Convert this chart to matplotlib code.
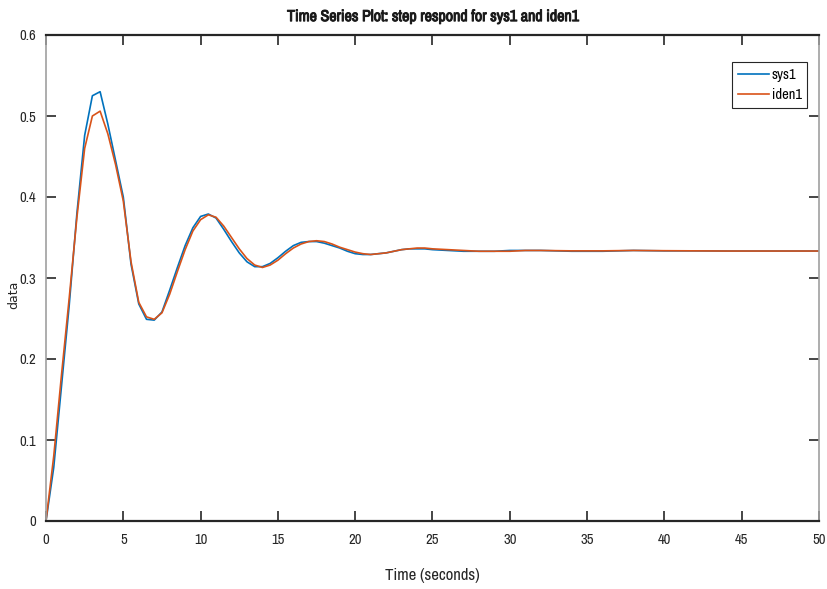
import numpy as np
import matplotlib
matplotlib.use('Agg')
import matplotlib.pyplot as plt
import matplotlib.patheffects as pe
from matplotlib import font_manager

# step response samples
t_fine = [0, 0.5, 1, 1.5, 2, 2.5, 3, 3.5, 4, 4.5, 5, 5.5, 6, 6.5, 7, 7.5, 8, 8.5, 9, 9.5,
          10, 10.5, 11, 11.5, 12, 12.5, 13, 13.5, 14, 14.5, 15, 15.5, 16, 16.5, 17, 17.5,
          18, 18.5, 19, 19.5, 20, 20.5, 21, 21.5, 22, 22.5, 23, 23.5, 24, 24.5, 25,
          26, 27, 28, 29, 30, 31, 32, 34, 36, 38, 40, 42, 44, 46, 48, 50]
sys1 = [0, 0.066, 0.166, 0.266, 0.380, 0.476, 0.525, 0.530, 0.490, 0.445, 0.400, 0.317,
        0.268, 0.249, 0.248, 0.258, 0.285, 0.313, 0.340, 0.362, 0.376, 0.379, 0.374,
        0.360, 0.345, 0.331, 0.320, 0.314, 0.314, 0.318, 0.325, 0.333, 0.340, 0.344,
        0.345, 0.345, 0.343, 0.340, 0.337, 0.333, 0.330, 0.329, 0.329, 0.330, 0.331,
        0.333, 0.335, 0.336, 0.336, 0.336, 0.335, 0.334, 0.333, 0.333, 0.333, 0.334,
        0.334, 0.334, 0.333, 0.333, 0.334, 0.3335, 0.3335, 0.3333, 0.3333, 0.3333, 0.3333]
iden1 = [0, 0.080, 0.180, 0.275, 0.375, 0.460, 0.500, 0.506, 0.478, 0.440, 0.395, 0.320,
         0.270, 0.252, 0.249, 0.257, 0.280, 0.308, 0.335, 0.358, 0.372, 0.378, 0.375,
         0.364, 0.350, 0.336, 0.324, 0.316, 0.313, 0.316, 0.322, 0.330, 0.337, 0.342,
         0.345, 0.346, 0.345, 0.342, 0.338, 0.335, 0.332, 0.330, 0.329, 0.330, 0.331,
         0.333, 0.335, 0.336, 0.337, 0.337, 0.336, 0.335, 0.334, 0.333, 0.333, 0.333,
         0.334, 0.334, 0.3335, 0.3335, 0.334, 0.3337, 0.3335, 0.3333, 0.3333, 0.3333, 0.3333]

# pick a narrow face if one is installed
names = sorted({f.name for f in font_manager.fontManager.ttflist})
narrow = [n for n in names if 'Narrow' in n or 'Condensed' in n]
if 'Liberation Sans Narrow' in narrow:
    fam = 'Liberation Sans Narrow'
else:
    fam = narrow[0] if narrow else 'Liberation Sans'
plt.rcParams['font.family'] = [fam, 'DejaVu Sans']
sz = 10.5 if narrow else 9.5

fig = plt.figure(figsize=(8.28, 5.89), dpi=100)
ax = fig.add_axes([46/828, 68/589, 773/828, 486/589])

ax.plot(t_fine, sys1, color='#0072BD', lw=1.2, label='sys1')
ax.plot(t_fine, iden1, color='#D95319', lw=1.2, label='iden1')

ax.set_xlim(0, 50)
ax.set_ylim(0, 0.6)
ax.set_xticks(np.arange(0, 51, 5))
ax.set_yticks(np.arange(0, 0.61, 0.1))
ax.set_yticklabels(['0', '0.1', '0.2', '0.3', '0.4', '0.5', '0.6'])
ax.tick_params(direction='in', length=7, width=1.2, top=True, right=True,
               labelsize=sz, colors='#262626')
ax.tick_params(axis='x', pad=9)
ax.tick_params(axis='y', pad=7)

for s in ['top', 'bottom']:
    ax.spines[s].set_color('#262626')
    ax.spines[s].set_linewidth(1.6)
for s in ['left', 'right']:
    ax.spines[s].set_color('#a0a0a0')
    ax.spines[s].set_linewidth(1.2)

title = ax.set_title('Time Series Plot: step respond for sys1 and iden1', fontsize=11.5,
                     fontweight='bold', color='#1a1a1a', pad=10)
title.set_path_effects([pe.withStroke(linewidth=0.7, foreground='#1a1a1a')])
ax.set_xlabel('Time (seconds)', fontsize=12, color='#262626', labelpad=15)
ax.set_ylabel('data', fontsize=9, color='#262626', family='DejaVu Sans')
ax.yaxis.set_label_coords(-0.033, 0.466)

leg = ax.legend(loc='upper right', bbox_to_anchor=(0.985, 0.944), fontsize=sz,
                handlelength=2.1, fancybox=False, framealpha=1, borderpad=0.4,
                labelspacing=0.4, handletextpad=0.2, borderaxespad=0)
leg.get_frame().set_edgecolor('#262626')
leg.get_frame().set_linewidth(0.8)

fig.savefig('out.png', dpi=100)
